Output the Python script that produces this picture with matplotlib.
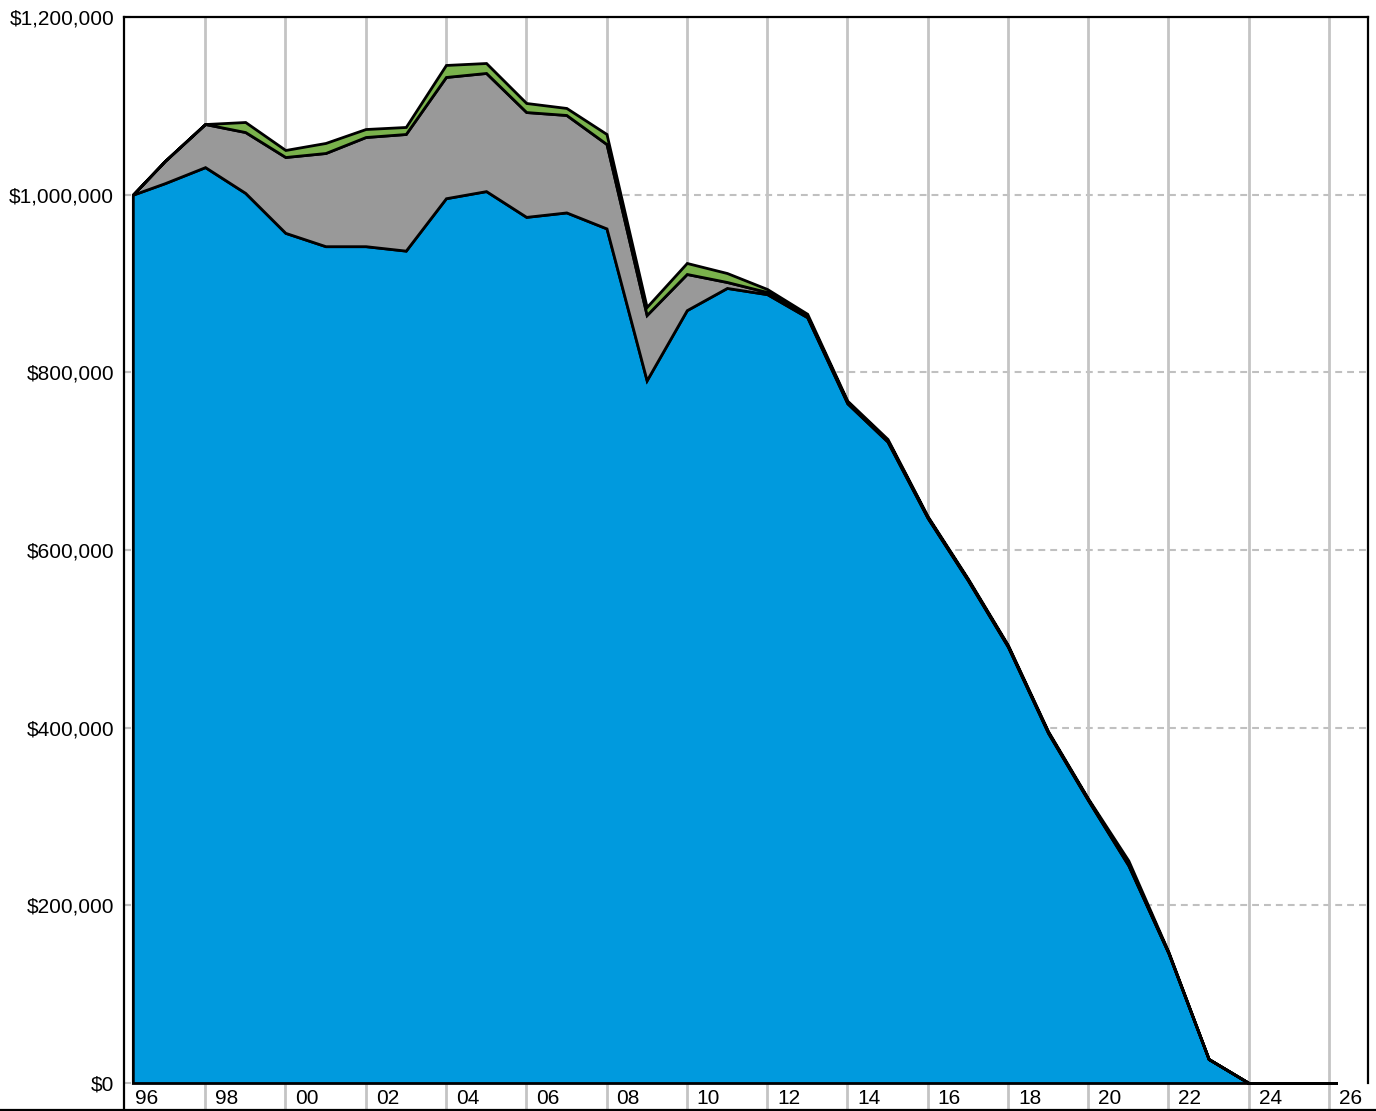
import matplotlib
matplotlib.use('Agg')
import matplotlib.pyplot as plt
import matplotlib.transforms as mtransforms
from matplotlib.lines import Line2D

plt.rcParams['font.family'] = ['Liberation Sans', 'DejaVu Sans']

# ---- data ----
years = [1996.2, 1997, 1998, 1999, 2000, 2001, 2002, 2003, 2004, 2005,
         2006, 2007, 2008, 2009, 2010, 2011, 2012, 2013, 2014, 2015,
         2016, 2017, 2018, 2019, 2020, 2021, 2022, 2023, 2024, 2025,
         2026, 2026.2]

blue = [1000000, 1013000, 1031000, 1002000, 957000, 942000, 942000, 937000, 996000, 1004000,
        975000, 980000, 962000, 791000, 870000, 895000, 888000, 862000, 765000, 722000,
        636000, 566000, 491000, 394000, 318000, 245000, 146000, 27000, 0, 0,
        0, 0]

gray = [0, 25000, 48500, 68500, 85400, 104900, 122900, 131300, 136500, 133000,
        118000, 109700, 95000, 73500, 40700, 6700, 2400, 1500, 1500, 1500,
        1000, 1000, 1000, 1000, 1000, 1500, 500, 0, 0, 0,
        0, 0]

green = [0, 0, 0, 11300, 7900, 11300, 9000, 7900, 13500, 11200,
         10200, 7900, 11300, 9000, 12400, 10100, 3400, 2400, 1500, 1500,
         1000, 1000, 1000, 1000, 1000, 4000, 1000, 0, 0, 0,
         0, 0]

y_ticks = [0, 200000, 400000, 600000, 800000, 1000000, 1200000]
y_tick_labels = ['$0', '$200,000', '$400,000', '$600,000', '$800,000', '$1,000,000', '$1,200,000']

x_label_years = [1996, 1998, 2000, 2002, 2004, 2006, 2008, 2010, 2012, 2014,
                 2016, 2018, 2020, 2022, 2024, 2026]
x_labels = ['96', '98', '00', '02', '04', '06', '08', '10', '12', '14',
            '16', '18', '20', '22', '24', '26']

colors = ['#009ADE', '#999999', '#7AB24C']

# ---- figure ----
W, H = 1376, 1111
fig = plt.figure(figsize=(W / 100, H / 100), dpi=100)
ax = fig.add_axes([124 / W, 28 / H, 1244 / W, 1066 / H])
ax.set_xlim(1995.98, 2026.97)
ax.set_ylim(0, 1200000)

# gridlines
for y in y_ticks[1:-1]:
    ax.axhline(y, color='#c0c0c0', lw=1.5, ls=(0, (3.3, 2.4)), zorder=0)
for x in x_label_years[1:]:
    ax.axvline(x, ymin=-0.0235, ymax=1, color='#c4c4c4', lw=2, zorder=0, clip_on=False)

polys = ax.stackplot(years, blue, gray, green, colors=colors,
                     edgecolor='black', linewidth=2, zorder=2)
for p in polys:
    p.set_clip_on(False)
    p.set_joinstyle('miter')

# spines
for s in ['top', 'right']:
    ax.spines[s].set_color('black')
    ax.spines[s].set_linewidth(1.6)
ax.spines['bottom'].set_visible(False)
ax.spines['left'].set_visible(False)

fig.add_artist(Line2D([124.5 / W, 124.5 / W], [0, 1 - 17 / H],
                      transform=fig.transFigure, color='black', lw=1.6))
fig.add_artist(Line2D([0, 1], [1.5 / H, 1.5 / H],
                      transform=fig.transFigure, color='black', lw=1.6))

# ticks
ax.set_yticks(y_ticks, y_tick_labels)
ax.tick_params(axis='y', direction='in', length=5, width=1.5, color='#c0c0c0',
               pad=7, labelsize=15)
ax.set_xticks([])

trans = mtransforms.blended_transform_factory(ax.transData, ax.transAxes)
trans = mtransforms.offset_copy(trans, fig=fig, x=10, y=0, units='dots')
for xv, lab in zip(x_label_years, x_labels):
    ax.text(xv, -0.015, lab, transform=trans, ha='left', va='center', fontsize=15)

fig.savefig('out.png', dpi=100)
